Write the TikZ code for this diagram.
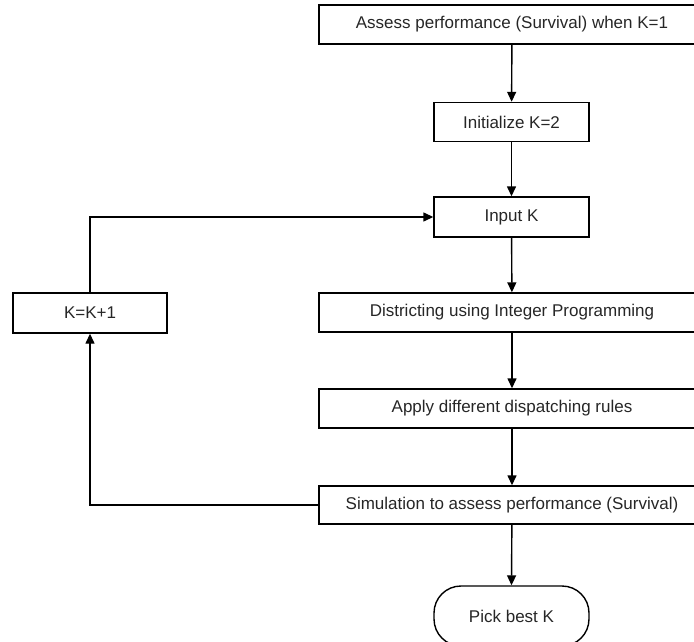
\documentclass[tikz,border=0pt]{standalone}
\usepackage{fontspec}
\setmainfont{Liberation Sans}
\usetikzlibrary{arrows.meta}
\tikzset{
	box/.style={draw, line width=1.4pt, minimum height=39pt, inner sep=0pt, font=\fontsize{17}{20}\selectfont, text=black!85},
	widebox/.style={box, minimum width=386pt},
	smallbox/.style={box, minimum width=155pt},
	flow/.style={line width=1.4pt, -{Triangle[length=10pt,width=9pt]}}
}
\begin{document}
\begin{tikzpicture}[x=1pt,y=-1pt]
	\useasboundingbox (0,0) rectangle (694,642);
	\clip (0,0) rectangle (694,642);
	\node[widebox] (assess) at (512,24.5) {Assess performance (Survival) when K=1};
	\node[smallbox] (init) at (511.5,122) {Initialize K=2};
	\node[smallbox, minimum height=40pt] (input) at (511.5,217) {Input K};
	\node[widebox] (distr) at (512,312.5) {Districting using Integer Programming};
	\node[widebox] (apply) at (512,408.5) {Apply different dispatching rules};
	\node[widebox, minimum height=38pt] (sim) at (512,505) {Simulation to assess performance (Survival)};
	\node[smallbox, minimum height=60pt, rounded corners=27pt] (pick) at (511.5,616) {Pick best K};
	\node[box, minimum width=154pt, minimum height=40pt] (kk) at (90,313) {K=K+1};
	\draw[flow] (assess) -- (init);
	\draw[flow] (init) -- (input);
	\draw[flow] (input) -- (distr);
	\draw[flow] (distr) -- (apply);
	\draw[flow] (apply) -- (sim);
	\draw[flow] (sim) -- (pick.north);
	\draw[flow] (sim.west) -| (kk.south);
	\draw[flow] (kk.north) |- (input.west);
\end{tikzpicture}
\end{document}
